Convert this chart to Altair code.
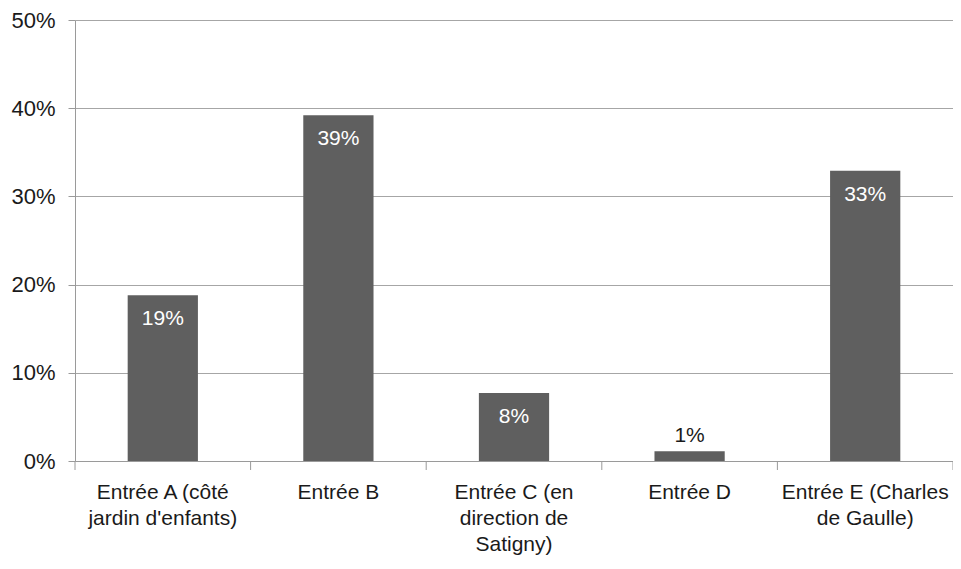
import altair as alt
import pandas as pd

categories = [
    "Entrée A (côté\njardin d'enfants)",
    "Entrée B",
    "Entrée C (en\ndirection de\nSatigny)",
    "Entrée D",
    "Entrée E (Charles\nde Gaulle)",
]
values = [0.188, 0.392, 0.077, 0.011, 0.329]
labels = ["19%", "39%", "8%", "1%", "33%"]

df = pd.DataFrame({"cat": categories, "val": values, "lab": labels})

FONT = "Liberation Sans"
BAR = "#5f5f5f"
AXC = "#9a9a9a"
W, H = 878, 441
HALF_STEP = W / len(categories) / 2

xscale = alt.Scale(paddingInner=0.6, paddingOuter=0.3)
x = alt.X("cat:N", sort=categories, title=None, scale=xscale,
          axis=alt.Axis(labelAngle=0, labelExpr="split(datum.label, '\\n')",
                        labelFontSize=21, labelFont=FONT, labelColor="#1a1a1a",
                        labelLineHeight=26, labelPadding=20, labelBaseline="top",
                        ticks=False, tickSize=0,
                        domainColor=AXC, grid=False, labelLimit=300))
y = alt.Y("val:Q", title=None,
          scale=alt.Scale(domain=[0, 0.5], nice=False),
          axis=alt.Axis(format=".0%", values=[0, 0.1, 0.2, 0.3, 0.4, 0.5],
                        labelFontSize=22, labelFont=FONT, labelColor="#1a1a1a",
                        labelPadding=13, tickSize=7, tickColor=AXC,
                        domainColor=AXC, gridColor="#a6a6a6",
                        grid=True))

base = alt.Chart(df)
xs = alt.X("cat:N", sort=categories)

bars = base.mark_bar(color=BAR).encode(x=x, y=y)

ticks_left = base.mark_rule(color=AXC, xOffset=-HALF_STEP).encode(
    x=xs, y=alt.value(H), y2=alt.value(H + 9))
ticks_right = base.transform_filter(
    alt.datum.cat == categories[-1]
).mark_rule(color=AXC, xOffset=HALF_STEP).encode(
    x=xs, y=alt.value(H), y2=alt.value(H + 9))

inside = base.transform_filter("datum.val >= 0.05").mark_text(
    color="white", font=FONT, fontSize=21, baseline="middle", dy=24
).encode(x=xs, y="val:Q", text="lab:N")
above = base.transform_filter("datum.val < 0.05").mark_text(
    color="#1a1a1a", font=FONT, fontSize=21, baseline="middle", dy=-15
).encode(x=xs, y="val:Q", text="lab:N")

chart = (bars + ticks_left + ticks_right + inside + above).properties(
    width=W, height=H,
    autosize=alt.AutoSizeParams(type="none"),
    padding={"left": 67, "top": 12, "right": 0, "bottom": 100},
).configure_view(stroke=None).configure_axis(
    domainWidth=1, gridWidth=1, tickWidth=1
)

chart.save("out.html", embed_options={"renderer": "svg", "actions": False})
